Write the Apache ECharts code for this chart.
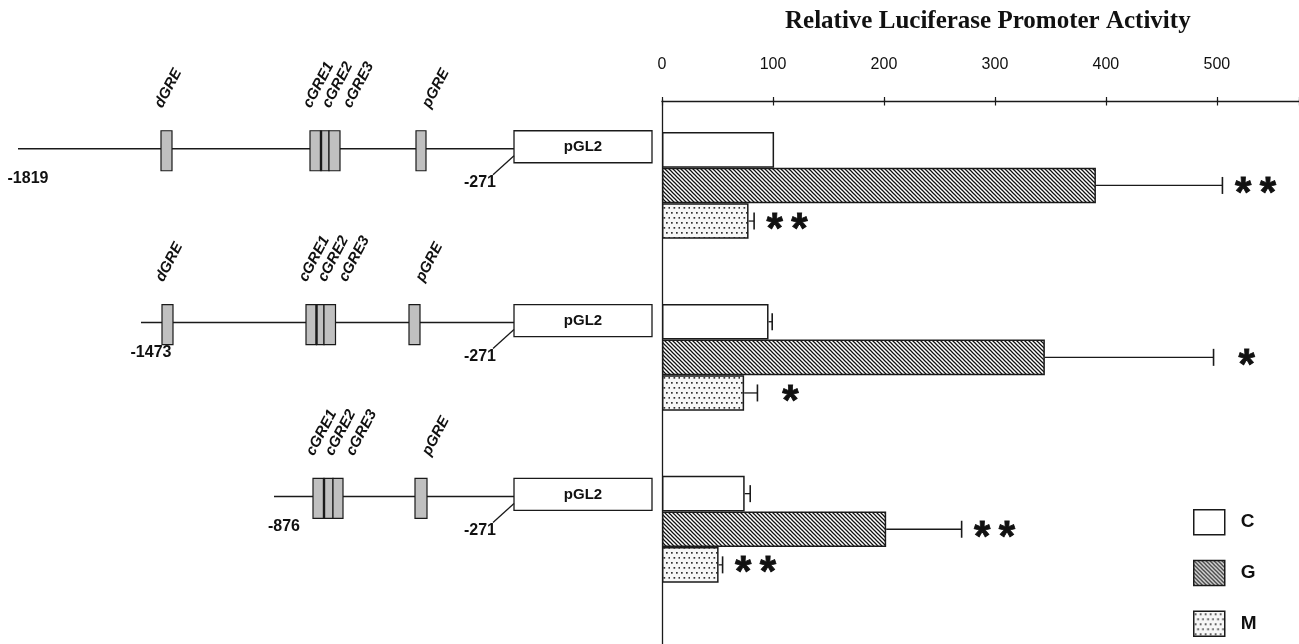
<!DOCTYPE html>
<html><head><meta charset="utf-8">
<script src="https://cdn.jsdelivr.net/npm/echarts@6/dist/echarts.min.js"></script>
<style>html,body{margin:0;padding:0;background:#fff}#c{width:1299px;height:644px}</style>
</head><body><div id="c"></div>
<script>
// ---------------- data ----------------
const constructs = ['-1819', '-1473', '-876'];
const vectorStart = '-271';
const vectorName = 'pGL2';
const groups = ['C', 'G', 'M'];
const valuesC = [101, 96, 74.5];
const valuesG = [391, 345, 202];
const valuesM = [78, 74, 51];
const errorsC = [0, 3.3, 5];
const errorsG = [114, 152, 68];
const errorsM = [5, 12, 3.6];
const signifC = ['', '', ''];
const signifG = ['**', '*', '**'];
const signifM = ['**', '*', '**'];
const axisTicks = [0, 100, 200, 300, 400, 500];
const axisTitle = 'Relative Luciferase Promoter Activity';
// schematic element positions, in diagram units along each construct
const constructStartX = [18, 141, 274];
const dGRE = [[161, 172], [162, 173], null];
const cGRE = [[310, 321, 329, 340], [306, 316.5, 324, 335.5], [313, 324, 333, 343]];
const pGRE = [[416, 426], [409, 420], [415, 427]];
const vectorBox = [514, 652];
const cGRENames = ['cGRE1', 'cGRE2', 'cGRE3'];

// ---------------- styles ----------------
const INK = '#1a1a1a';
const SANS = 'Liberation Sans';
const BAR_W = 35.6;

function hatchPattern() {
  const c = document.createElement('canvas'); c.width = 4; c.height = 4;
  const g = c.getContext('2d');
  g.fillStyle = '#fff'; g.fillRect(0, 0, 4, 4);
  g.strokeStyle = '#111'; g.lineWidth = 1.25; g.beginPath();
  g.moveTo(-1, -1); g.lineTo(5, 5);
  g.moveTo(3, -1); g.lineTo(5, 1);
  g.moveTo(-1, 3); g.lineTo(1, 5);
  g.stroke();
  return c;
}
function dotPattern() {
  const c = document.createElement('canvas'); c.width = 10; c.height = 10;
  const g = c.getContext('2d');
  g.fillStyle = '#f7f7f7'; g.fillRect(0, 0, 10, 10);
  g.fillStyle = '#333';
  [[1, 2], [6, 2], [3.5, 7], [8.5, 7]].forEach(p => g.fillRect(p[0], p[1], 1.7, 1.7));
  return c;
}
const fills = [
  '#ffffff',
  { image: hatchPattern(), repeat: 'repeat' },
  { image: dotPattern(), repeat: 'repeat' }
];

const chart = echarts.init(document.getElementById('c'), null, { renderer: 'canvas' });

const allVals = [valuesC, valuesG, valuesM];
const allErrs = [errorsC, errorsG, errorsM];
const allSig = [signifC, signifG, signifM];
const errData = [];
allVals.forEach((vals, k) => vals.forEach((v, i) => errData.push([v, i, allErrs[k][i], k])));

function renderErr(params, api) {
  const v = api.value(0), row = api.value(1), e = api.value(2), k = api.value(3);
  const sig = allSig[k][row];
  const p0 = api.coord([v, row]);
  const p1 = api.coord([v + e, row]);
  const y = p0[1] + (k - 1) * BAR_W;
  const ch = [];
  if (e > 0) {
    ch.push({ type: 'line', shape: { x1: p0[0], y1: y, x2: p1[0], y2: y }, style: { stroke: INK, lineWidth: 1.3 } });
    ch.push({ type: 'line', shape: { x1: p1[0], y1: y - 8.5, x2: p1[0], y2: y + 8.5 }, style: { stroke: INK, lineWidth: 1.6 } });
  }
  if (sig) {
    ch.push({ type: 'text', x: p1[0] + 33, y: y + 9, style: {
      text: sig.split('').join('\u2009'), align: 'center', verticalAlign: 'middle',
      fontSize: 42, fontWeight: 'bold', fontFamily: SANS, fill: '#111', stroke: '#111', lineWidth: 0.8 } });
  }
  return { type: 'group', children: ch };
}

function seg(x1, y1, x2, y2, w) {
  return { type: 'line', shape: { x1, y1, x2, y2 }, style: { stroke: INK, lineWidth: w } };
}
function label(str, x, y, size, align) {
  return { type: 'text', x, y, style: { text: str, align: align || 'center', verticalAlign: 'middle',
    fontSize: size, fontWeight: 'bold', fontFamily: SANS, fill: '#111' } };
}
function rlabel(str, x, y) {
  return { type: 'text', x, y, rotation: 62 * Math.PI / 180, style: { text: str, align: 'left', verticalAlign: 'middle',
    fontSize: 15, fontWeight: 'bold', fontStyle: 'italic', fontFamily: SANS, fill: '#111' } };
}

function renderSchematic(params, api) {
  const row = api.value(1);
  const X = x => api.coord([x, row])[0];
  const L = api.coord([0, row])[1];
  const ch = [];
  const vl = X(vectorBox[0]), vr = X(vectorBox[1]);
  ch.push(seg(X(constructStartX[row]), L, vl, L, 1.5));
  const boxes = [];
  if (dGRE[row]) boxes.push(dGRE[row]);
  const c = cGRE[row];
  boxes.push([c[0], c[1]], [c[1], c[2]], [c[2], c[3]]);
  boxes.push(pGRE[row]);
  boxes.forEach(b => ch.push({ type: 'rect', shape: { x: X(b[0]), y: L - 18, width: X(b[1]) - X(b[0]), height: 40 },
    style: { fill: '#c0c0c0', stroke: INK, lineWidth: 1.2 } }));
  ch.push(seg(X(c[1]), L - 18, X(c[1]), L + 22, 2.4));
  ch.push({ type: 'rect', shape: { x: vl, y: L - 18, width: vr - vl, height: 32 }, style: { fill: '#fff', stroke: INK, lineWidth: 1.3 } });
  ch.push(label(vectorName, (vl + vr) / 2, L - 2, 15));
  ch.push(seg(vl, L + 7, vl - 21, L + 26, 1.3));
  ch.push(label(vectorStart, vl - 34, L + 34, 16));
  ch.push(label(constructs[row], X(constructStartX[row]) + 10, L + 30, 16));
  // rotated element names
  const ty = L - 42;
  if (dGRE[row]) ch.push(rlabel('dGRE', (X(dGRE[row][0]) + X(dGRE[row][1])) / 2 - 8, ty));
  const cc = (X(c[0]) + X(c[3])) / 2;
  [-18, 1, 22].forEach((o, j) => ch.push(rlabel(cGRENames[j], cc + o, ty)));
  ch.push(rlabel('pGRE', (X(pGRE[row][0]) + X(pGRE[row][1])) / 2 + 5, ty));
  return { type: 'group', children: ch };
}

const barSeries = groups.map((name, k) => ({
  name, type: 'bar', xAxisIndex: 0, yAxisIndex: 0,
  data: allVals[k], barWidth: BAR_W, barGap: '0%',
  itemStyle: { color: fills[k], borderColor: INK, borderWidth: 1.5 },
  silent: true, animation: false
}));

const option = {
  animation: false,
  backgroundColor: '#fff',
  title: { text: axisTitle, left: 785, top: 9, padding: 0,
    textStyle: { fontFamily: 'Liberation Serif', fontWeight: 'bold', fontSize: 25, color: '#111' } },
  legend: { data: groups, orient: 'vertical', left: 1193, top: 509, itemWidth: 31, itemHeight: 25, itemGap: 24.3,
    icon: 'rect', selectedMode: false, padding: 0,
    itemStyle: { borderColor: INK, borderWidth: 1.5 },
    textStyle: { fontSize: 19, fontWeight: 'bold', fontFamily: SANS, color: '#111', padding: [0, 0, 6, 11] } },
  grid: [
    { left: 662, right: 0, top: 99.5, height: 515.7, outerBoundsMode: 'none', containLabel: false },
    { left: 0, width: 662, top: 61.8, height: 521.6, outerBoundsMode: 'none', containLabel: false },
    { left: 662, right: 0, top: 101, bottom: 0, outerBoundsMode: 'none', containLabel: false }
  ],
  xAxis: [
    { gridIndex: 0, type: 'value', position: 'top', min: 0, max: 574, interval: 100,
      axisLine: { show: false, onZero: false }, axisTick: { show: true, inside: true, length: 6, lineStyle: { color: INK, width: 1.2 } },
      axisLabel: { show: false }, splitLine: { show: false } },
    { gridIndex: 1, type: 'value', min: 0, max: 662, show: false },
    { gridIndex: 2, type: 'value', position: 'top', min: 0, max: 574, interval: 100,
      axisLine: { show: true, onZero: false, lineStyle: { color: INK, width: 1.3 } },
      axisTick: { show: true, length: 4, lineStyle: { color: INK, width: 1.2 } },
      axisLabel: { margin: 28, fontSize: 16, color: '#111', fontFamily: SANS,
        formatter: v => axisTicks.includes(v) ? String(v) : '' },
      splitLine: { show: false } }
  ],
  yAxis: [
    { gridIndex: 0, type: 'category', data: constructs, inverse: true, show: false },
    { gridIndex: 1, type: 'category', data: constructs, inverse: true, show: false },
    { gridIndex: 2, type: 'value', min: 0, max: 1, inverse: true, position: 'left',
      axisLine: { show: true, onZero: false, lineStyle: { color: INK, width: 1.3 } },
      axisTick: { show: false }, axisLabel: { show: false }, splitLine: { show: false } }
  ],
  series: [
    ...barSeries,
    { name: 'errors', type: 'custom', xAxisIndex: 0, yAxisIndex: 0, data: errData,
      dimensions: ['value', 'row', 'err', 'grp'], encode: { x: 0, y: 1 },
      renderItem: renderErr, clip: false, silent: true, z: 5 },
    { name: 'schematic', type: 'custom', xAxisIndex: 1, yAxisIndex: 1,
      data: constructs.map((_, i) => [0, i]), encode: { x: 0, y: 1 },
      renderItem: renderSchematic, clip: false, silent: true }
  ]
};
chart.setOption(option);
</script></body></html>
